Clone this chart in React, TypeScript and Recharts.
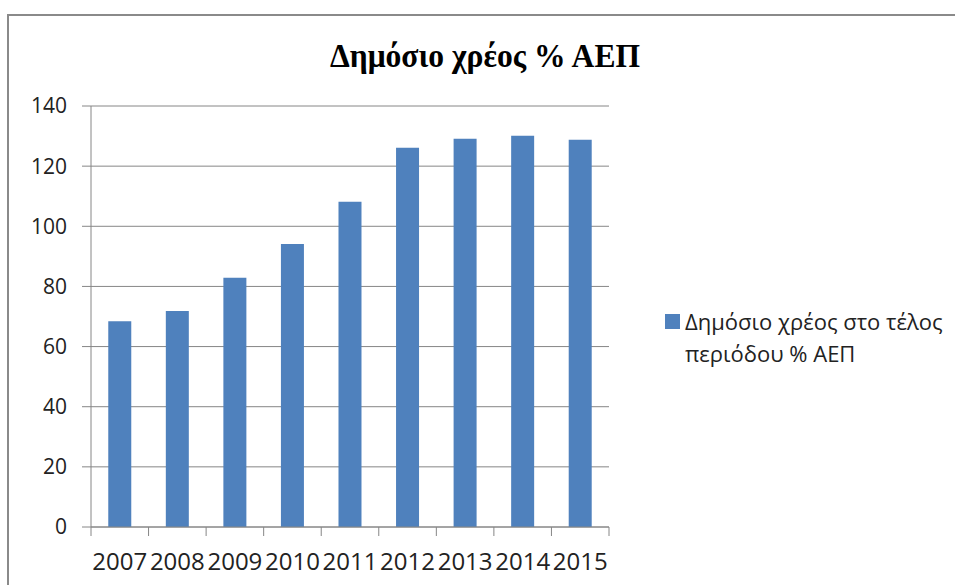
import { Bar, BarChart, CartesianGrid, XAxis, YAxis } from 'recharts'

const years = ['2007', '2008', '2009', '2010', '2011', '2012', '2013', '2014', '2015']
const debtPct = [68.4, 71.8, 82.9, 94.1, 108.2, 126.1, 129.1, 130.1, 128.8]
const yTicks = [0, 20, 40, 60, 80, 100, 120, 140]
const chartTitle = 'Δημόσιο χρέος % ΑΕΠ'
const seriesName = ['Δημόσιο χρέος στο τέλος', 'περιόδου % ΑΕΠ']

const BAR = '#4F81BD'
const AXIS = '#868686'
const FONT = '"Open Sans", sans-serif'

const data = years.map((y, i) => ({ year: y, value: debtPct[i] }))

// Excel-style ticks: marks on category boundaries, label in the middle
function YearTick(props: any) {
  const { x, y, payload, index, visibleTicksCount } = props
  const half = payload?.offset ?? 0
  const last = index === visibleTicksCount - 1
  return (
    <g>
      <line x1={x - half} x2={x - half} y1={y} y2={y + 9} stroke={AXIS} />
      {last && <line x1={x + half} x2={x + half} y1={y} y2={y + 9} stroke={AXIS} />}
      <text x={x} y={y + 43} textAnchor="middle" fontFamily={FONT} fontSize={24} fill="#222">
        {payload.value}
      </text>
    </g>
  )
}

export default function App() {
  return (
    <div style={{ position: 'absolute', left: 0, top: 0, width: 955, height: 585, overflow: 'hidden', background: '#fff' }}>
      <div style={{ position: 'absolute', left: 7, top: 14, width: 1100, height: 800, border: '2px solid #8a8a8a' }} />
      <svg style={{ position: 'absolute', left: 0, top: 0 }} width={955} height={100}>
        <text x={485} y={67} textAnchor="middle" fontFamily='"Liberation Serif", serif' fontWeight="bold"
          fontSize={33} textLength={310} lengthAdjust="spacingAndGlyphs" fill="#000">
          {chartTitle}
        </text>
      </svg>
      <div style={{ position: 'absolute', left: 0, top: 0 }}>
        <BarChart width={955} height={585} data={data} margin={{ top: 106, right: 346, bottom: 0, left: 0 }} barCategoryGap="30%">
          <CartesianGrid vertical={false} stroke={AXIS} />
          <XAxis dataKey="year" height={58} axisLine={{ stroke: AXIS }} tickLine={false} tickSize={0} tickMargin={0}
            interval={0} tick={<YearTick />} />
          <YAxis width={91} domain={[0, 140]} ticks={yTicks} axisLine={{ stroke: AXIS }} tickLine={{ stroke: AXIS }}
            tickSize={9} tickMargin={15} tick={{ fontFamily: FONT, fontSize: 21, fill: '#222' }} />
          <Bar dataKey="value" fill={BAR} isAnimationActive={false} />
        </BarChart>
      </div>
      <div style={{ position: 'absolute', left: 665, top: 305, fontFamily: FONT, fontSize: 22, lineHeight: '32px', color: '#222' }}>
        <div style={{ display: 'flex', alignItems: 'center' }}>
          <span style={{ width: 15, height: 15, background: BAR, display: 'inline-block', marginRight: 5 }} />
          <span>{seriesName[0]}</span>
        </div>
        <div style={{ paddingLeft: 20 }}>{seriesName[1]}</div>
      </div>
    </div>
  )
}
